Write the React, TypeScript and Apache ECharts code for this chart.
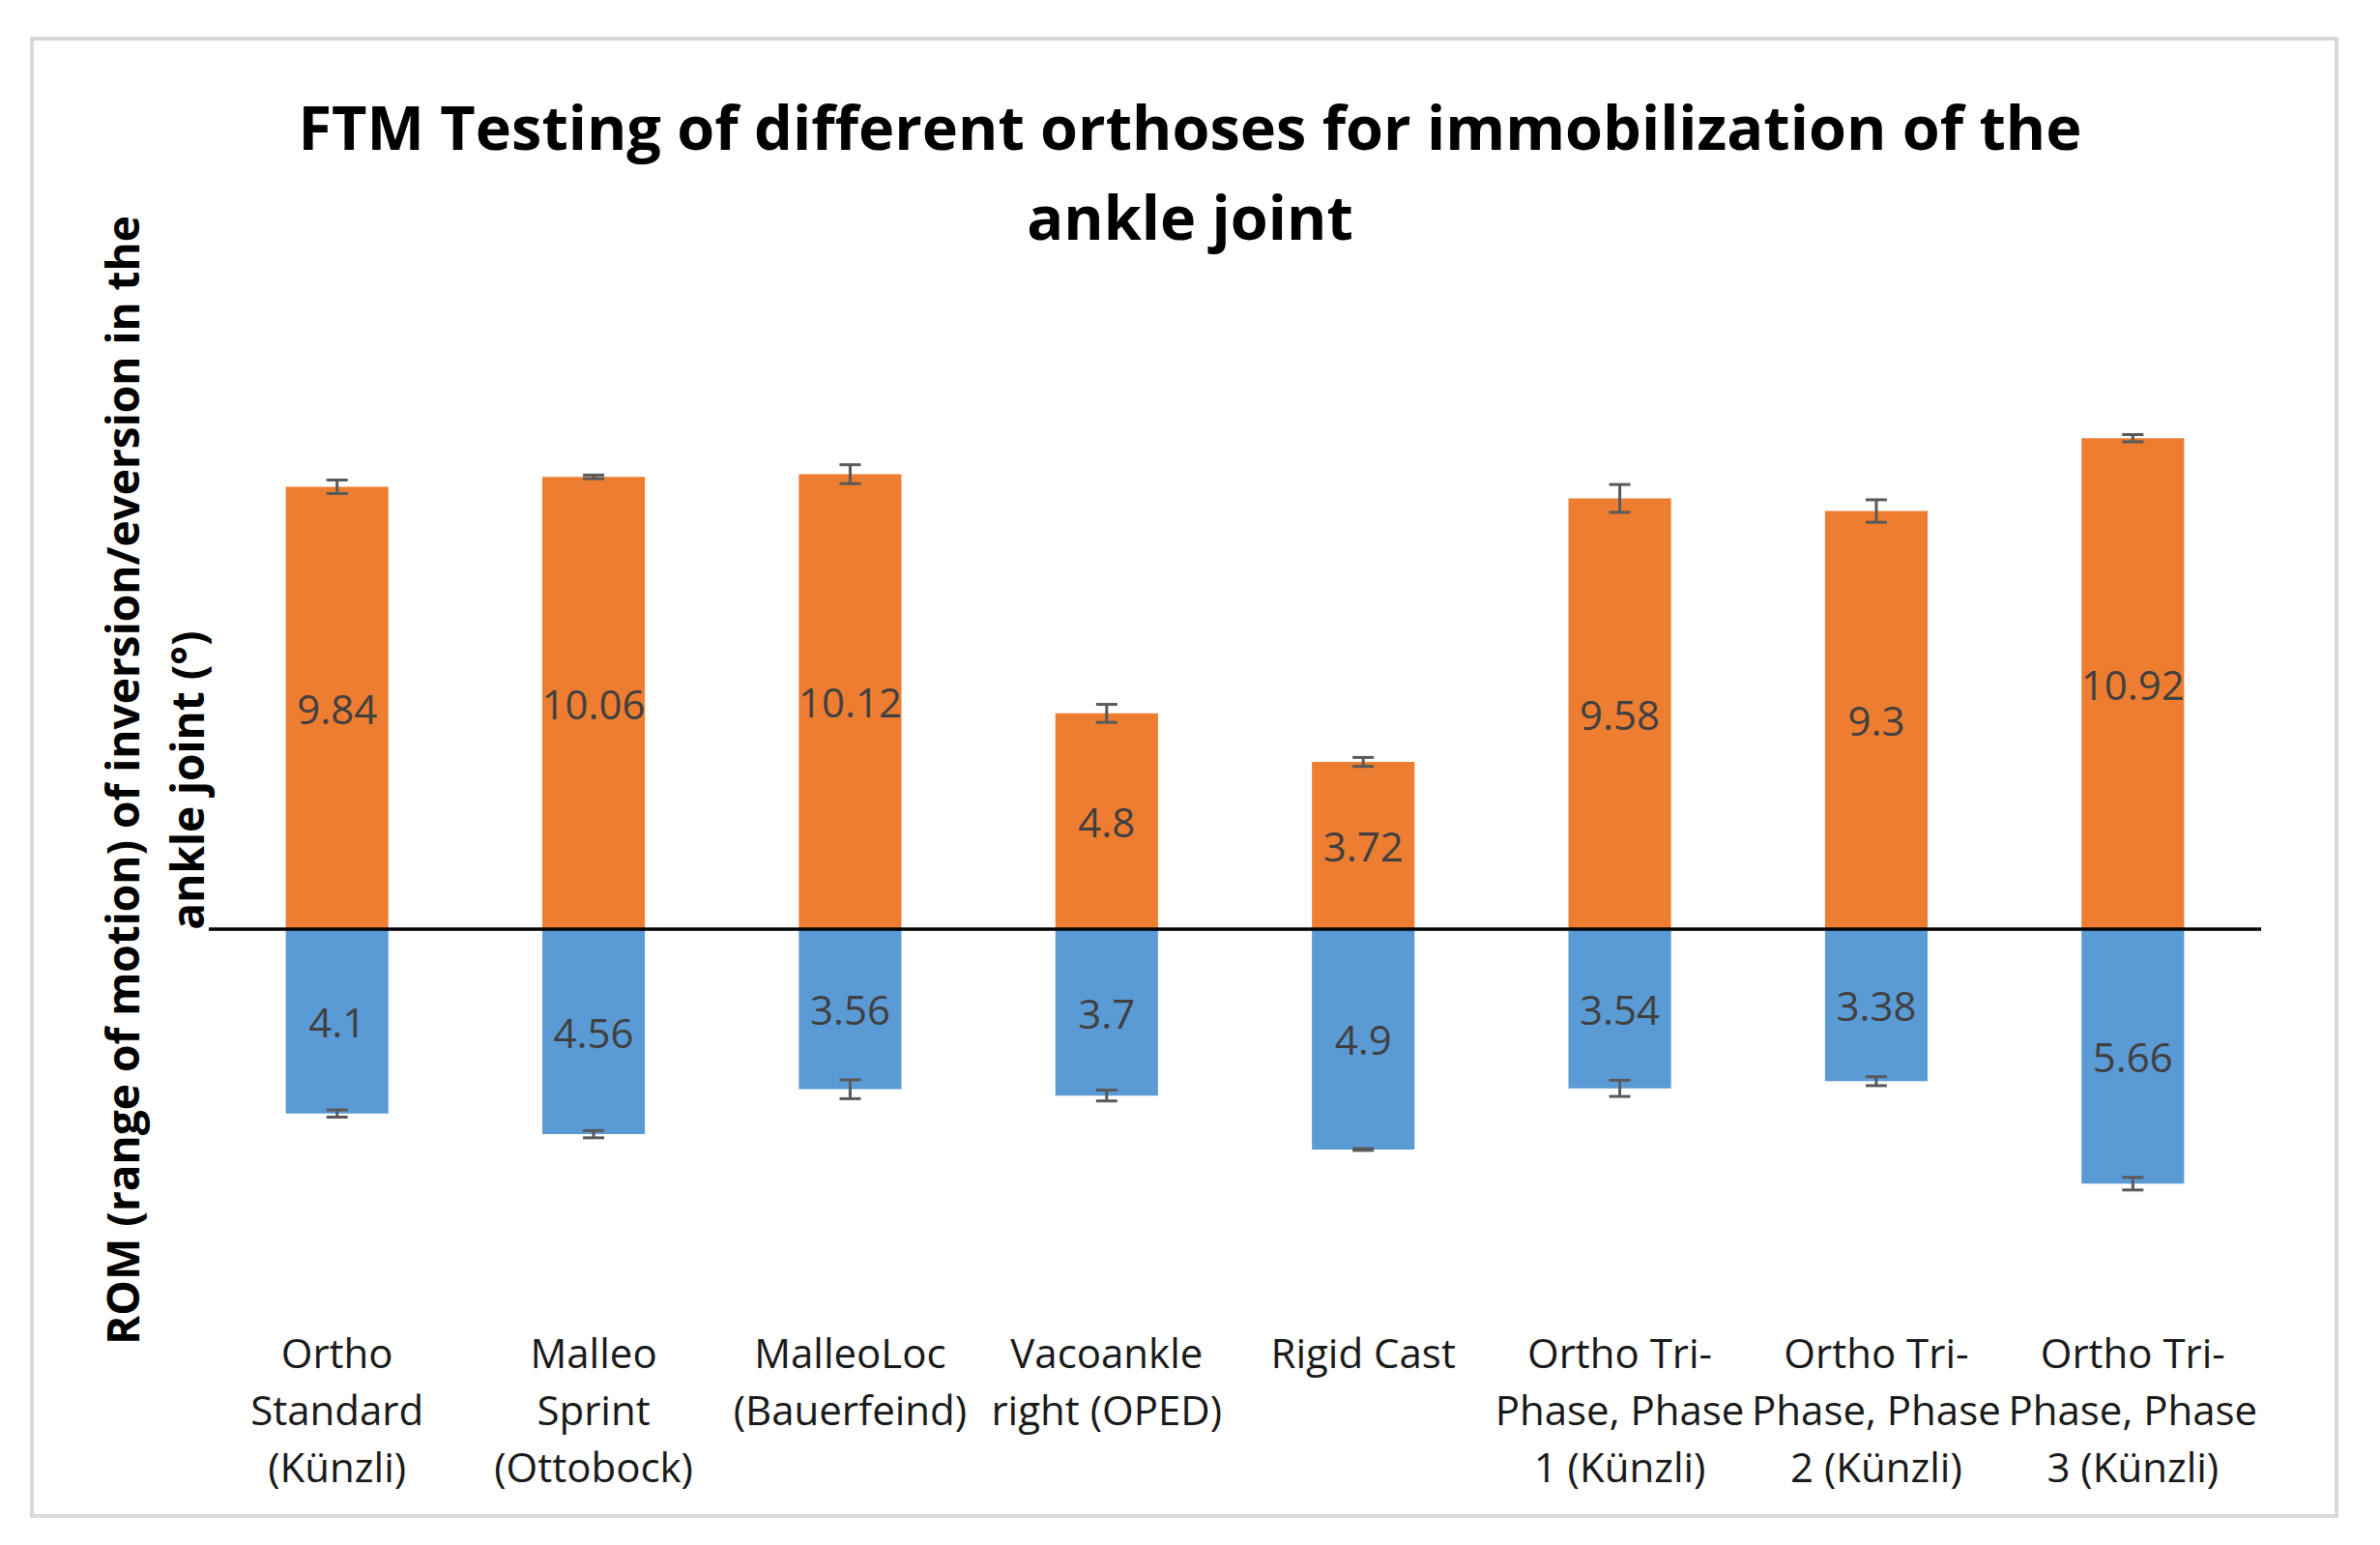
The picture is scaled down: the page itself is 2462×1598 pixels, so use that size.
import React, { useEffect, useRef } from 'react';
import * as echarts from 'echarts';

const categories = [
  'Ortho\nStandard\n(Künzli)',
  'Malleo\nSprint\n(Ottobock)',
  'MalleoLoc\n(Bauerfeind)',
  'Vacoankle\nright (OPED)',
  'Rigid Cast',
  'Ortho Tri-\nPhase, Phase\n1 (Künzli)',
  'Ortho Tri-\nPhase, Phase\n2 (Künzli)',
  'Ortho Tri-\nPhase, Phase\n3 (Künzli)',
];

// inversion (up, orange) and eversion (down, blue), in degrees
const inversion = [9.84, 10.06, 10.12, 4.8, 3.72, 9.58, 9.3, 10.92];
const eversion = [4.1, 4.56, 3.56, 3.7, 4.9, 3.54, 3.38, 5.66];

// error bar half-lengths
const inversionErr = [0.15, 0.04, 0.21, 0.2, 0.1, 0.31, 0.25, 0.08];
const eversionErr = [0.08, 0.08, 0.21, 0.12, 0.02, 0.18, 0.1, 0.14];

const FONT = '"Open Sans", sans-serif';

const errorBarItem = (params: any, api: any) => {
  const i = api.value(0);
  const v = api.value(1);
  const e = api.value(2);
  const hi = api.coord([i, v + e]);
  const lo = api.coord([i, v - e]);
  const x = hi[0];
  const half = 11;
  const style = { stroke: '#595959', lineWidth: 3 };
  return {
    type: 'group',
    children: [
      { type: 'line', shape: { x1: x, y1: hi[1], x2: x, y2: lo[1] }, style },
      { type: 'line', shape: { x1: x - half, y1: hi[1], x2: x + half, y2: hi[1] }, style },
      { type: 'line', shape: { x1: x - half, y1: lo[1], x2: x + half, y2: lo[1] }, style },
    ],
  };
};

const App = () => {
  const chartRef = useRef<HTMLDivElement>(null);

  useEffect(() => {
    document.body.style.margin = '0';
    if (!chartRef.current) return;
    const myChart = echarts.init(chartRef.current, null, { renderer: 'svg' });

    const labelStyle = {
      show: true,
      position: 'inside' as const,
      color: '#404040',
      fontSize: 42,
      fontFamily: FONT,
    };

    const option: any = {
      animation: false,
      backgroundColor: '#ffffff',
      title: {
        text: 'FTM Testing of different orthoses for immobilization of the\nankle joint',
        left: 'center',
        top: 84,
        padding: 0,
        textStyle: {
          fontFamily: FONT,
          fontSize: 63,
          fontWeight: 'bold',
          color: '#000000',
          lineHeight: 93,
        },
      },
      graphic: [
        {
          type: 'rect',
          shape: { x: 33, y: 40, width: 2384, height: 1528 },
          style: { fill: 'none', stroke: '#d9d9d9', lineWidth: 4 },
          silent: true,
        },
        {
          type: 'text',
          x: 159,
          y: 807,
          rotation: Math.PI / 2,
          style: {
            text: 'ROM (range of motion) of inversion/eversion in the\nankle joint (°)',
            fontFamily: FONT,
            fontSize: 46,
            fontWeight: 'bold',
            fill: '#000000',
            align: 'center',
            verticalAlign: 'middle',
            lineHeight: 67,
          },
        },
      ],
      grid: { left: 216, width: 2123, top: 403, height: 958 },
      xAxis: {
        type: 'category',
        data: categories,
        axisLine: { show: false, onZero: false },
        axisTick: { show: false },
        axisLabel: {
          interval: 0,
          margin: 8,
          color: '#1a1a1a',
          fontSize: 42,
          fontFamily: FONT,
          lineHeight: 59,
        },
      },
      yAxis: {
        type: 'value',
        min: -8.6,
        max: 12,
        show: false,
        splitLine: { show: false },
      },
      series: [
        {
          name: 'Inversion',
          type: 'bar',
          data: inversion,
          barWidth: '40%',
          barGap: '-100%',
          itemStyle: { color: '#ED7D31' },
          label: labelStyle,
          markLine: {
            silent: true,
            symbol: 'none',
            label: { show: false },
            lineStyle: { color: '#000000', width: 3.5, type: 'solid' },
            data: [{ yAxis: 0 }],
            z: 5,
          },
        },
        {
          name: 'Eversion',
          type: 'bar',
          data: eversion.map((v) => -v),
          barWidth: '40%',
          barGap: '-100%',
          itemStyle: { color: '#5B9BD5' },
          label: { ...labelStyle, formatter: (p: any) => String(Math.abs(p.value)) },
        },
        {
          type: 'custom',
          renderItem: errorBarItem,
          data: inversion.map((v, i) => [i, v, inversionErr[i]]),
          encode: { x: 0, y: 1 },
          z: 10,
          silent: true,
        },
        {
          type: 'custom',
          renderItem: errorBarItem,
          data: eversion.map((v, i) => [i, -v, eversionErr[i]]),
          encode: { x: 0, y: 1 },
          z: 10,
          silent: true,
        },
      ],
    };

    myChart.setOption(option);
    return () => {
      myChart.dispose();
    };
  }, []);

  return <div ref={chartRef} style={{ width: '2462px', height: '1598px' }} />;
};

export default App;
